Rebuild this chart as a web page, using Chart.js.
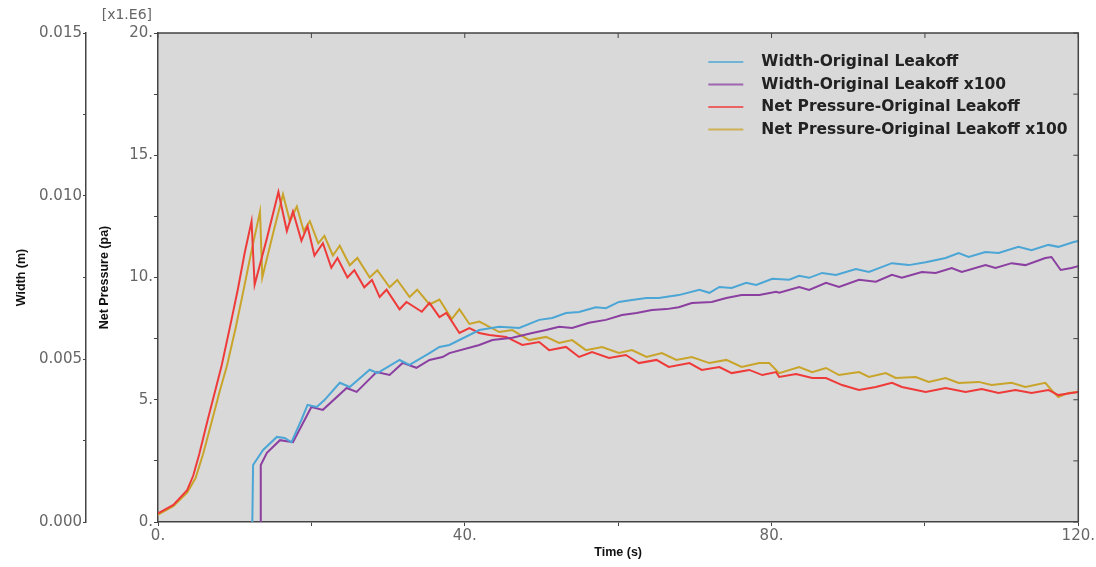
<!DOCTYPE html>
<html>
<head>
<meta charset="utf-8">
<script src="https://cdn.jsdelivr.net/npm/chart.js@4.4.1/dist/chart.umd.min.js"></script>
<style>
  body { margin: 0; background: #fff; }
</style>
</head>
<body>
<canvas id="myChart" width="1096" height="567"></canvas>
<script>
// time (s) / value pairs
// width in m, net pressure in units of 1e6 Pa
const widthOrigT = [12.3, 12.4, 13.7, 15.5, 16.5, 17.4, 18.7, 19.5, 20.7, 21.7, 23.7, 25.0, 27.6, 28.6, 31.5, 32.8, 35.4, 36.7, 38.0, 41.9,
  44.5, 47.1, 49.7, 51.4, 53.2, 54.9, 57.1, 58.4, 60.1, 61.8, 63.7, 65.3, 67.9, 70.6, 71.9, 73.2, 74.8, 76.7, 78.0, 80.1,
  82.3, 83.6, 84.9, 86.6, 88.4, 91.0, 92.7, 95.7, 97.9, 100.1, 102.7, 104.4, 105.7, 107.9, 109.6, 112.2, 113.9, 116.1, 117.4, 119.4, 120];
const widthOrigW = [0, 0.00175, 0.00221, 0.00261, 0.00258, 0.00245, 0.00313, 0.00359, 0.00353, 0.00374, 0.00427, 0.00414, 0.00467, 0.00457, 0.00497, 0.00482, 0.00518, 0.00537, 0.00543, 0.00589,
  0.00599, 0.00595, 0.00620, 0.00626, 0.00641, 0.00644, 0.00659, 0.00656, 0.00675, 0.00681, 0.00687, 0.00687, 0.00696, 0.00712, 0.00703, 0.00721, 0.00718, 0.00734, 0.00727, 0.00746,
  0.00743, 0.00755, 0.00749, 0.00764, 0.00758, 0.00776, 0.00767, 0.00794, 0.00788, 0.00797, 0.00810, 0.00825, 0.00813, 0.00828, 0.00825, 0.00844, 0.00834, 0.00850, 0.00844, 0.00859, 0.00862];

const width100T = [13.4, 13.4, 14.2, 15.9, 17.6, 20.0, 21.5, 24.6, 25.9, 28.5, 30.2, 31.9, 33.7, 35.4, 37.1, 38.0, 41.9, 43.6, 46.2, 48.8,
  50.6, 52.3, 54.0, 56.2, 58.4, 60.5, 62.4, 64.4, 66.3, 67.9, 69.6, 72.2, 74.1, 76.1, 78.4, 80.6, 81.0, 83.6, 84.9, 87.1,
  88.8, 91.4, 93.6, 95.7, 97.0, 99.6, 101.4, 103.5, 104.8, 107.9, 109.2, 111.3, 113.1, 115.7, 116.5, 117.7, 119.1, 120];
const width100W = [0, 0.00175, 0.00212, 0.00251, 0.00245, 0.00353, 0.00344, 0.00411, 0.00399, 0.00460, 0.00451, 0.00488, 0.00473, 0.00497, 0.00506, 0.00518, 0.00543, 0.00558, 0.00565, 0.00580,
  0.00589, 0.00599, 0.00595, 0.00611, 0.00620, 0.00635, 0.00641, 0.00650, 0.00653, 0.00659, 0.00672, 0.00675, 0.00687, 0.00696, 0.00696, 0.00706, 0.00703, 0.00721, 0.00712, 0.00734,
  0.00721, 0.00743, 0.00737, 0.00758, 0.00749, 0.00767, 0.00764, 0.00779, 0.00767, 0.00788, 0.00779, 0.00794, 0.00788, 0.00810, 0.00813, 0.00773, 0.00779, 0.00785];

const pressOrigT = [0, 2, 3.8, 4.6, 5.4, 6.5, 7.4, 8.3, 9.4, 10.4, 11.3, 12.2, 12.6, 14.2, 15.7, 16.8, 17.6, 18.7, 19.5, 20.4,
  21.5, 22.6, 23.4, 24.7, 25.6, 26.9, 27.9, 28.9, 29.8, 31.5, 32.4, 34.4, 35.4, 36.7, 37.6, 39.3, 40.6, 41.9, 43.2, 45.4,
  47.5, 49.7, 51.0, 53.2, 54.9, 56.6, 58.8, 61.0, 62.7, 65.0, 66.6, 69.3, 70.9, 73.2, 74.8, 77.1, 78.8, 80.6, 81.0, 83.2,
  85.3, 87.1, 89.2, 91.4, 93.6, 95.7, 97.0, 100.1, 102.7, 105.3, 107.4, 109.6, 111.8, 113.9, 116.1, 117.4, 119.1, 120];
const pressOrigP = [0.35, 0.7, 1.3, 1.9, 2.8, 4.2, 5.3, 6.4, 8.0, 9.5, 11.0, 12.3, 9.7, 11.6, 13.5, 11.9, 12.7, 11.5, 12.1, 10.9,
  11.4, 10.4, 10.8, 10.0, 10.3, 9.6, 9.9, 9.2, 9.5, 8.7, 9.0, 8.6, 8.96, 8.38, 8.55, 7.73, 7.93, 7.73, 7.65, 7.57,
  7.24, 7.36, 7.03, 7.16, 6.75, 6.95, 6.71, 6.83, 6.50, 6.63, 6.34, 6.50, 6.22, 6.34, 6.09, 6.22, 6.01, 6.13, 5.93, 6.05,
  5.89, 5.89, 5.60, 5.40, 5.52, 5.69, 5.52, 5.32, 5.48, 5.32, 5.44, 5.28, 5.40, 5.28, 5.40, 5.19, 5.28, 5.32];

const press100T = [0, 2, 3.8, 4.9, 5.9, 7.0, 8.0, 9.0, 10.1, 11.1, 12.2, 13.3, 13.6, 15.0, 16.3, 17.2, 18.1, 19.0, 19.8, 20.9,
  21.7, 22.8, 23.7, 25.0, 26.0, 27.6, 28.6, 30.2, 31.2, 32.8, 33.8, 35.4, 36.7, 38.3, 39.3, 40.6, 41.9, 44.5, 46.2, 48.4,
  50.6, 52.3, 54.0, 55.8, 57.9, 60.1, 61.8, 63.7, 65.7, 67.6, 69.6, 71.9, 74.1, 76.1, 78.4, 79.7, 81.0, 83.6, 85.3, 87.1,
  88.8, 91.4, 92.7, 94.9, 96.2, 98.8, 100.5, 102.7, 104.4, 107.0, 108.7, 111.3, 113.1, 115.7, 116.5, 117.4, 118.7, 120];
const press100P = [0.3, 0.65, 1.2, 1.8, 2.8, 4.1, 5.3, 6.4, 7.9, 9.4, 11.1, 12.7, 10.0, 11.8, 13.4, 12.3, 12.9, 11.9, 12.3, 11.4,
  11.7, 10.9, 11.3, 10.5, 10.8, 10.0, 10.3, 9.6, 9.9, 9.2, 9.5, 8.9, 9.1, 8.3, 8.7, 8.1, 8.2, 7.77, 7.85, 7.44,
  7.57, 7.32, 7.44, 7.03, 7.16, 6.91, 7.03, 6.75, 6.91, 6.63, 6.75, 6.50, 6.63, 6.34, 6.50, 6.50, 6.09, 6.34, 6.13, 6.30,
  6.01, 6.13, 5.93, 6.09, 5.89, 5.93, 5.73, 5.89, 5.69, 5.73, 5.60, 5.69, 5.52, 5.69, 5.40, 5.11, 5.28, 5.32];

const seriesLabels = ['Width-Original Leakoff', 'Width-Original Leakoff x100', 'Net Pressure-Original Leakoff', 'Net Pressure-Original Leakoff x100'];
const seriesColors = ['#4ba6d6', '#8b3fa0', '#ef3a3a', '#c9a42a'];

function pts(xs, ys) {
  return xs.map((x, i) => ({x: x, y: ys[i]}));
}

const tickFont = {family: 'DejaVu Sans', size: 15};
const titleFont = {family: 'Liberation Sans', size: 12.5, weight: 'bold'};
const axisColor = '#444';

// grey plot area, frame, mirror ticks, unit label and legend
const plotDecor = {
  id: 'plotDecor',
  beforeDraw(chart) {
    const {ctx, chartArea: a} = chart;
    ctx.save();
    ctx.fillStyle = '#d9d9d9';
    ctx.fillRect(a.left, a.top, a.right - a.left, a.bottom - a.top);
    ctx.restore();
  },
  afterDatasetsDraw(chart) {
    const {ctx, chartArea: a, scales} = chart;
    ctx.save();
    ctx.strokeStyle = axisColor;
    ctx.lineWidth = 1.5;
    ctx.beginPath();
    ctx.moveTo(a.left, a.top); ctx.lineTo(a.right, a.top); ctx.lineTo(a.right, a.bottom);
    ctx.stroke();
    ctx.lineWidth = 1;
    scales.x.ticks.forEach(t => {
      const px = scales.x.getPixelForValue(t.value);
      ctx.beginPath(); ctx.moveTo(px, a.top); ctx.lineTo(px, a.top + 5); ctx.stroke();
    });
    scales.yPress.ticks.forEach(t => {
      const py = scales.yPress.getPixelForValue(t.value);
      ctx.beginPath(); ctx.moveTo(a.right, py); ctx.lineTo(a.right - 5, py); ctx.stroke();
    });

    ctx.font = '14px "DejaVu Sans"';
    ctx.fillStyle = '#666';
    ctx.textAlign = 'right';
    ctx.textBaseline = 'middle';
    ctx.fillText('[x1.E6]', a.left - 6, a.top - 18);

    ctx.font = 'bold 15.5px "DejaVu Sans"';
    ctx.textAlign = 'left';
    chart.data.datasets.forEach((ds, i) => {
      const y = a.top + 29 + i * 22.5;
      const x0 = a.right - 370;
      ctx.globalAlpha = 0.75;
      ctx.strokeStyle = ds.borderColor;
      ctx.lineWidth = 2;
      ctx.beginPath(); ctx.moveTo(x0, y); ctx.lineTo(x0 + 35, y); ctx.stroke();
      ctx.globalAlpha = 1;
      ctx.fillStyle = '#222';
      ctx.fillText(ds.label, x0 + 53, y);
    });
    ctx.restore();
  }
};

const ctx = document.getElementById('myChart').getContext('2d');
const myChart = new Chart(ctx, {
  type: 'line',
  data: {
    datasets: [
      {label: seriesLabels[0], data: pts(widthOrigT, widthOrigW), yAxisID: 'yWidth', borderColor: seriesColors[0]},
      {label: seriesLabels[1], data: pts(width100T, width100W), yAxisID: 'yWidth', borderColor: seriesColors[1]},
      {label: seriesLabels[2], data: pts(pressOrigT, pressOrigP), yAxisID: 'yPress', borderColor: seriesColors[2]},
      {label: seriesLabels[3], data: pts(press100T, press100P), yAxisID: 'yPress', borderColor: seriesColors[3]}
    ]
  },
  options: {
    responsive: false,
    animation: false,
    events: [],
    layout: {padding: {left: 0, right: 16, top: 33, bottom: 0}},
    elements: {
      line: {borderWidth: 2, tension: 0},
      point: {radius: 0}
    },
    plugins: {legend: {display: false}, tooltip: {enabled: false}},
    scales: {
      x: {
        type: 'linear', min: 0, max: 120,
        ticks: {stepSize: 20, autoSkip: false, maxRotation: 0, padding: 1, font: tickFont, color: '#666',
          callback: v => (v % 40 === 0 ? v + '.' : '')},
        grid: {drawOnChartArea: false, tickLength: 4, color: axisColor},
        border: {color: axisColor, width: 1.5},
        title: {display: true, text: 'Time (s)', font: titleFont, color: '#111', padding: {top: 0, bottom: 7}},
        afterFit: s => { s.height = 45; }
      },
      yPress: {
        type: 'linear', position: 'left', weight: 0, min: 0, max: 20,
        ticks: {stepSize: 2.5, autoSkip: false, padding: 1, font: tickFont, color: '#666',
          callback: v => (v % 5 === 0 ? v + '.' : '')},
        grid: {drawOnChartArea: false, tickLength: 4, color: axisColor},
        border: {color: axisColor, width: 1.5},
        title: {display: true, text: 'Net Pressure (pa)', font: titleFont, color: '#111', padding: {top: 11, bottom: 0}},
        afterFit: s => { s.width = 72; }
      },
      yWidth: {
        type: 'linear', position: 'left', weight: 10, min: 0, max: 0.015,
        ticks: {stepSize: 0.0025, autoSkip: false, padding: 1, font: tickFont, color: '#666',
          callback: v => (Math.round(v / 0.0025) % 2 === 0 ? v.toFixed(3) : '')},
        grid: {drawOnChartArea: false, tickLength: 3, color: axisColor},
        border: {color: axisColor, width: 1.5},
        title: {display: true, text: 'Width (m)', font: titleFont, color: '#111', padding: {top: 14, bottom: 0}},
        afterFit: s => { s.width = 86; }
      }
    }
  },
  plugins: [plotDecor]
});
</script>
</body>
</html>
